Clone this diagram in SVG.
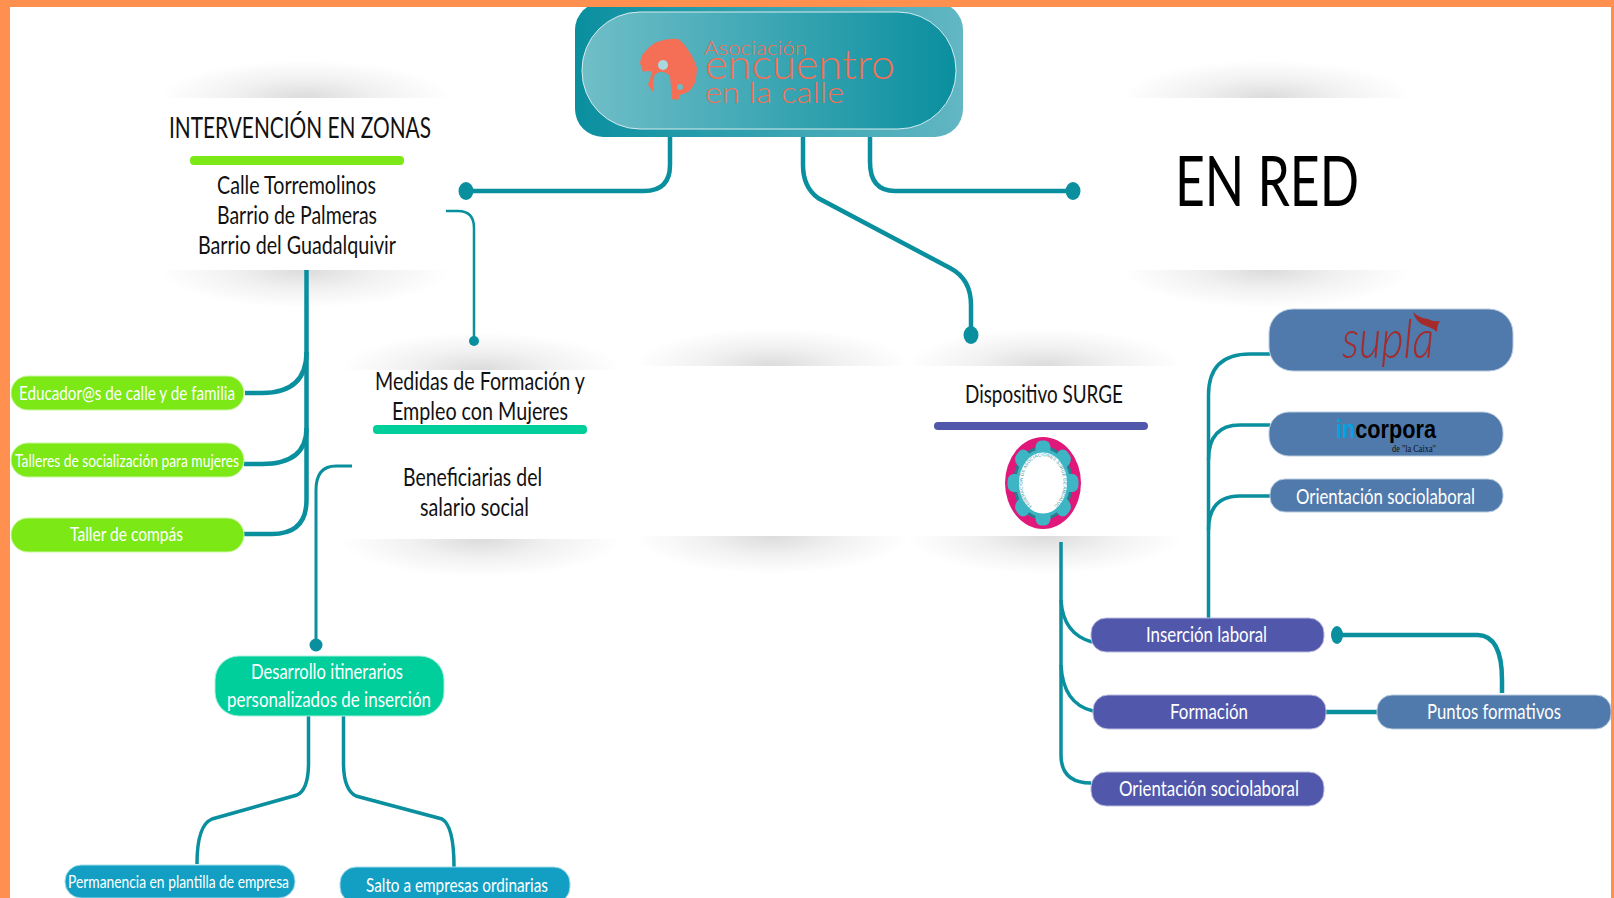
<svg xmlns="http://www.w3.org/2000/svg" width="1614" height="898" viewBox="0 0 1614 898">
<style>
text{font-family:Lato,"Open Sans","Liberation Sans",sans-serif;text-anchor:start}
.k{fill:#111;font-size:25px}
.w{fill:#fff;font-size:22px}
.c{fill:none;stroke:#0A8F9F;stroke-width:4.5;stroke-linecap:butt}
.t{stroke-width:2.5}
.d{fill:#0A8F9F}
.g{fill:#7CE816;stroke:#C9F5A0;stroke-width:1}
.p{fill:#5158AB;stroke:#B9BCE0;stroke-width:1}
.b{fill:#507AAB;stroke:#B8CBE0;stroke-width:1}
.e{fill:#00CF9B;stroke:#A8EEDC;stroke-width:1}
.a{fill:#139FC3;stroke:#A5DCEB;stroke-width:1}
.l{fill:#F46F55;font-weight:300}
.s{fill:url(#sh)}
</style>
<defs>
<radialGradient id="sh"><stop offset="0" stop-color="#000" stop-opacity=".14"/><stop offset=".5" stop-color="#000" stop-opacity=".055"/><stop offset="1" stop-color="#000" stop-opacity="0"/></radialGradient>
<linearGradient id="ho" x1="0" y1="0" x2="1" y2="0"><stop offset="0" stop-color="#0A8F9F"/><stop offset="1" stop-color="#62B7C3"/></linearGradient>
<linearGradient id="hi" x1="0" y1="0" x2="1" y2="0"><stop offset="0" stop-color="#70BEC8"/><stop offset="1" stop-color="#0A8F9F"/></linearGradient>
<path id="ring" d="M-11 23A20.500 27 0 1 1 11 23"/>
</defs>
<rect width="1614" height="898" fill="#fff"/>

<g id="shadows">
<ellipse class="s" cx="305" cy="98" rx="146" ry="38"/><ellipse class="s" cx="305" cy="270" rx="146" ry="38"/>
<ellipse class="s" cx="1267" cy="98" rx="146" ry="38"/><ellipse class="s" cx="1267" cy="270" rx="146" ry="38"/>
<ellipse class="s" cx="481" cy="370" rx="142" ry="38"/><ellipse class="s" cx="481" cy="539" rx="142" ry="38"/>
<ellipse class="s" cx="772" cy="366" rx="138" ry="38"/><ellipse class="s" cx="772" cy="536" rx="138" ry="38"/>
<ellipse class="s" cx="1045" cy="366" rx="138" ry="38"/><ellipse class="s" cx="1045" cy="536" rx="138" ry="38"/>
</g>
<g id="cards" fill="#fff">
<rect x="155" y="98" width="300" height="172"/>
<rect x="1117" y="98" width="300" height="172"/>
<rect x="338" y="370" width="286" height="169"/>
<rect x="632" y="366" width="280" height="170"/>
<rect x="905" y="366" width="280" height="170"/>
</g>

<g id="connectors">
<path class="c" d="M670 137V165Q670 191 644 191H466"/>
<path class="c" d="M803 137V165Q803 187 818 198L950 268Q971 279 971 305V335"/>
<path class="c" d="M870 137V162Q870 191 895 191H1073"/>
<path class="c t" d="M446 211H458Q474 211 474 228V341"/>
<path class="c" d="M306.500 270V500Q306.500 534 272 534H244"/>
<path class="c" d="M245 393H262Q306.500 393 306.500 352"/>
<path class="c" d="M244 464H262Q306.500 464 306.500 428"/>
<path class="c" style="stroke-width:3" d="M352 466H336Q316 466 316 490V646"/>
<path class="c" style="stroke-width:3.500" d="M308.500 716V765Q308 790 297 795L212 819Q197 825 197 864"/>
<path class="c" style="stroke-width:3.500" d="M343.500 716V765Q344 790 356 796L442 819Q454 826 454 867"/>
<path class="c" style="stroke-width:3.500" d="M1061 542V755Q1061 783 1091 783"/>
<path class="c" style="stroke-width:3.500" d="M1061 600Q1063 634 1092 642"/>
<path class="c" style="stroke-width:3.500" d="M1061 665Q1063 704 1093 711"/>
<path class="c" style="stroke-width:3.500" d="M1208.500 618V395Q1208.500 354 1250 354H1270"/>
<path class="c" style="stroke-width:3.500" d="M1208.500 460Q1208.500 425 1240 425H1270"/>
<path class="c" style="stroke-width:3.500" d="M1208.500 530Q1208.500 496 1240 496H1270"/>
<path class="c" d="M1326 712H1377"/>
<path class="c" d="M1337 635H1478Q1502 636 1502 680V693"/>
<ellipse class="d" cx="466" cy="191" rx="7.500" ry="9"/>
<ellipse class="d" cx="971" cy="335" rx="7.500" ry="9"/>
<ellipse class="d" cx="1073" cy="191" rx="7.500" ry="9"/>
<ellipse class="d" cx="474" cy="341" rx="5" ry="5"/>
<ellipse class="d" cx="316" cy="645" rx="6.500" ry="6.500"/>
<ellipse class="d" cx="1337" cy="635" rx="6" ry="9"/>
</g>

<g id="header">
<rect x="575" y="2" width="388" height="135" rx="28" fill="url(#ho)"/>
<rect x="582" y="12" width="374" height="117" rx="58" fill="url(#hi)" stroke="#D5EBEE" stroke-width="1"/>
<path fill="#F46F55" d="M640 63Q641 55 645 52Q650 45 657 42Q668 38 678 39Q684 43 688 50Q694 58 697 68L696 80Q693 88 688 92L680 95L678 100L672 99L670 76Q664 71 660 72Q655 73 654 77L653 92L648 85L652 72Q648 70 643 72Z"/>
<circle cx="663" cy="65" r="5" fill="#A9D9DE"/>
<circle cx="680" cy="87" r="3" fill="#6DBDC6"/>
<text class="l" x="704" y="55" font-size="20" textLength="103" lengthAdjust="spacingAndGlyphs">Asociación</text>
<text class="l" x="705" y="79" font-size="42" textLength="190" lengthAdjust="spacingAndGlyphs">encuentro</text>
<text class="l" x="705" y="103" font-size="30" textLength="139" lengthAdjust="spacingAndGlyphs">en la calle</text>
</g>

<g id="node-zonas">
<text class="k" x="169" y="138" style="font-size:28px" textLength="262" lengthAdjust="spacingAndGlyphs">INTERVENCIÓN EN ZONAS</text>
<rect x="190" y="156" width="214" height="9" rx="4" fill="#7CE816"/>
<text class="k" x="217" y="194" textLength="159" lengthAdjust="spacingAndGlyphs">Calle Torremolinos</text>
<text class="k" x="217" y="224" textLength="160" lengthAdjust="spacingAndGlyphs">Barrio de Palmeras</text>
<text class="k" x="198" y="254" textLength="198" lengthAdjust="spacingAndGlyphs">Barrio del Guadalquivir</text>
</g>
<g id="node-red">
<text x="1175" y="206" fill="#000" style="font-size:70px" textLength="184" lengthAdjust="spacingAndGlyphs">EN RED</text>
</g>
<g id="node-medidas">
<text class="k" x="375" y="390" textLength="210" lengthAdjust="spacingAndGlyphs">Medidas de Formación y</text>
<text class="k" x="392" y="420" textLength="176" lengthAdjust="spacingAndGlyphs">Empleo con Mujeres</text>
<rect x="373" y="425" width="214" height="9" rx="4" fill="#00CF9B"/>
<text class="k" x="403" y="486" textLength="139" lengthAdjust="spacingAndGlyphs">Beneficiarias del</text>
<text class="k" x="420" y="516" textLength="109" lengthAdjust="spacingAndGlyphs">salario social</text>
</g>
<g id="node-surge">
<text class="k" x="965" y="403" textLength="158" lengthAdjust="spacingAndGlyphs">Dispositivo SURGE</text>
<rect x="934" y="422" width="214" height="8" rx="4" fill="#5158AB"/>
<g transform="translate(1043 483)">
<ellipse rx="38" ry="46" fill="#E0187A"/>
<ellipse rx="30" ry="37" fill="#2A7B8C"/>
<g transform="scale(1 1.2)" fill="#3EB5C4">
<rect x="-7.500" y="-35.500" width="15" height="71" rx="6"/>
<rect x="-7.500" y="-35.500" width="15" height="71" rx="6" transform="rotate(45)"/>
<rect x="-7.500" y="-35.500" width="15" height="71" rx="6" transform="rotate(90)"/>
<rect x="-7.500" y="-35.500" width="15" height="71" rx="6" transform="rotate(135)"/>
</g>
<ellipse rx="27" ry="34" fill="#3EB5C4"/>
<ellipse rx="24" ry="30.500" fill="#fff"/>
<text style="font-family:'Liberation Sans',sans-serif;font-size:4.400px;letter-spacing:.2px" fill="#2F8FA0"><textPath href="#ring">FEDERACIÓN DE ASOCIACIONES SURGE DE ANDALUCÍA</textPath></text>
</g>
</g>

<g id="node-educador"><rect class="g" x="11" y="376" width="233" height="34" rx="17"/><text class="w" x="19" y="400" style="font-size:20px" textLength="216" lengthAdjust="spacingAndGlyphs">Educador@s de calle y de familia</text></g>
<g id="node-talleres"><rect class="g" x="11" y="443" width="233" height="34" rx="17"/><text class="w" x="15" y="467" style="font-size:18px" textLength="224" lengthAdjust="spacingAndGlyphs">Talleres de socialización para mujeres</text></g>
<g id="node-compas"><rect class="g" x="11" y="518" width="233" height="34" rx="17"/><text class="w" x="70" y="541" style="font-size:20px" textLength="113" lengthAdjust="spacingAndGlyphs">Taller de compás</text></g>
<g id="node-desarrollo"><rect class="e" x="215" y="656" width="229" height="60" rx="24"/>
<text class="w" x="251" y="679" textLength="152" lengthAdjust="spacingAndGlyphs">Desarrollo itinerarios</text>
<text class="w" x="227" y="707" textLength="204" lengthAdjust="spacingAndGlyphs">personalizados de inserción</text></g>
<g id="node-permanencia"><rect class="a" x="65" y="865" width="230" height="33" rx="16"/><text class="w" x="68" y="888" style="font-size:18px" textLength="221" lengthAdjust="spacingAndGlyphs">Permanencia en plantilla de empresa</text></g>
<g id="node-salto"><rect class="a" x="340" y="867" width="230" height="36" rx="16"/><text class="w" x="366" y="892" style="font-size:20px" textLength="182" lengthAdjust="spacingAndGlyphs">Salto a empresas ordinarias</text></g>

<g id="node-insercion"><rect class="p" x="1091" y="618" width="233" height="34" rx="15"/><text class="w" x="1146" y="642" textLength="121" lengthAdjust="spacingAndGlyphs">Inserción laboral</text></g>
<g id="node-formacion"><rect class="p" x="1093" y="695" width="233" height="34" rx="15"/><text class="w" x="1170" y="719" textLength="78" lengthAdjust="spacingAndGlyphs">Formación</text></g>
<g id="node-orientacion"><rect class="p" x="1091" y="772" width="233" height="34" rx="15"/><text class="w" x="1119" y="796" textLength="180" lengthAdjust="spacingAndGlyphs">Orientación sociolaboral</text></g>
<g id="node-puntos"><rect class="b" x="1377" y="695" width="234" height="34" rx="15"/><text class="w" x="1427" y="719" textLength="134" lengthAdjust="spacingAndGlyphs">Puntos formativos</text></g>
<g id="node-supla"><rect class="b" x="1269" y="309" width="244" height="62" rx="24"/>
<text x="1342" y="358" fill="#A52A2A" style="font-size:54px;font-style:italic;font-weight:300" textLength="92" lengthAdjust="spacingAndGlyphs">supla</text>
<path fill="#A52A2A" d="M1413 312Q1416 323 1426 326Q1433 328 1437 332Q1437 325 1440 321Q1433 322 1428 319Q1419 318 1413 312Z"/></g>
<g id="node-incorpora"><rect class="b" x="1269" y="412" width="234" height="44" rx="20"/>
<text x="1336" y="438" style="font-family:'Liberation Sans',Arial,sans-serif;font-size:26px;font-weight:700" textLength="100" lengthAdjust="spacingAndGlyphs"><tspan fill="#0A9FE0">in</tspan><tspan fill="#000">corpora</tspan></text>
<text x="1392" y="452" fill="#111" style="font-family:'Liberation Serif',serif;font-size:11px" textLength="44" lengthAdjust="spacingAndGlyphs">de "la Caixa"</text></g>
<g id="node-orientacion2"><rect class="b" x="1270" y="479" width="233" height="33" rx="15"/><text class="w" x="1296" y="504" textLength="179" lengthAdjust="spacingAndGlyphs">Orientación sociolaboral</text></g>

<g id="frame" fill="#FF9050"><rect width="1614" height="7"/><rect width="10" height="898"/><rect x="1611" width="3" height="898"/></g>
</svg>
